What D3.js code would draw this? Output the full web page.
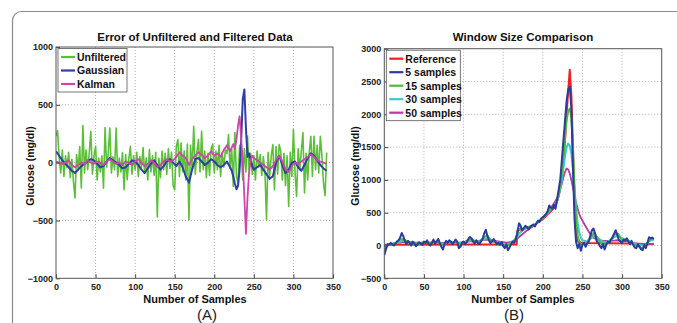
<!DOCTYPE html>
<html>
<head>
<meta charset="utf-8">
<script src="https://cdn.jsdelivr.net/npm/d3@7"></script>
<style>
  body { margin: 0; background: #fff; }
  svg { display: block; font-family: "Liberation Sans", Arial, sans-serif; }
</style>
</head>
<body>
<div id="chart"></div>
<script>
// ---- panel A: error of unfiltered / filtered data ----
const stepTwoA = d3.range(0, 344, 2);
const unfiltered = [
  230, 277, 40, -90, 110, -120, 60, -40, 90, -130,
  30, -160, -306, 70, -60, 140, -220, 320, -90, 110,
  -60, 80, 271, -100, 60, 141, -150, 40, -80, 60,
  -220, 303, -40, 80, 300, -90, 50, -60, 300, -120,
  40, -80, 87, -234, 70, -147, 30, 141, -100, 60,
  -60, 90, -120, 50, -40, 130, -90, 40, -150, 113,
  -80, 60, -110, 90, -470, 40, -130, 100, -60, 80,
  -100, 120, -50, 90, -200, -234, 140, 199, -120, 170,
  -80, 100, -150, 160, -494, 150, -60, 315, -100, 90,
  200, -80, 271, -60, 100, -130, 80, -110, 120, 160,
  -90, 100, -60, 150, -120, 90, -40, 110, 80, 243,
  -50, 120, -205, 260, -120, -180, 150, 90, -150, 120,
  -80, 228, -60, 80, -100, 60, -150, 100, -40, 70,
  -110, 50, -80, -494, 90, -120, 60, 156, -234, 140,
  -100, 156, 100, -150, 80, -200, 60, -378, 90, -120,
  286, -80, -292, 120, -60, 100, 260, -262, 80, -150,
  90, 228, -120, 228, -60, 150, -90, 228, 60, -180,
  -286, 87
];
const filtX = d3.range(0, 220, 4).concat(d3.range(220, 252, 2)).concat(d3.range(254, 343, 4));
const gaussian = [
  98, 60, 20, -10, -40, -70, -89, -60, -30, -10,
  10, 30, 20, -10, -40, -30, 10, 40, 20, 0,
  -20, -50, -40, -10, 20, 10, -20, -60, -90, -50,
  -10, 20, -20, -60, -30, 10, 30, 0, -30, 10,
  -40, -120, -173, -60, 30, 40, 10, -20, 0, 30,
  10, -20, -40, -20, 10,
  -40, -70, -120, -180, -230, -200, -60, 200, 550, 633, 300, 50, 80, 20, -30, -60,
  -40, -20, -60, -100, -140, -118, 0, 60, -20, -90,
  -60, 0, 10, -40, -70, -20, 40, 80, 60, 20, -20, -50, -70
];
const kalman = [
  10, 0, -10, 0, 20, -20, -40, -20, 0, -10,
  20, 0, -10, 10, 0, -20, 10, 30, 10, -10,
  0, -20, 10, 0, -20, 10, 30, 0, -30, -10,
  20, 0, -40, -20, 10, 30, 10, 20, 50, 90,
  60, 40, -20, 30, 60, 90, 70, 40, 60, 100,
  60, 80, 50, 110, 150,
  100, 130, 160, 120, 200, 320, 401, 200, 20, -300, -615, -300, -80, 20, 60, 40,
  20, 0, -20, -40, -60, -30, 20, 60, 10, -60,
  -80, -30, 0, -10, 10, 30, 50, 70, 50, 20, 10, 0, -10
];
const ticksXA = [0, 50, 100, 150, 200, 250, 300, 350];
const ticksYA = [-1000, -500, 0, 500, 1000];
const namesA = ["Unfiltered", "Gaussian", "Kalman"];

// ---- panel B: window size comparison ----
const refX = [0, 100, 167, 168, 180, 190, 200, 210, 216, 220, 224, 227, 230, 232, 234, 236, 238, 240, 242, 244, 250, 280, 310, 340];
const reference = [10, 15, 15, 230, 270, 320, 400, 520, 600, 750, 1000, 1400, 2000, 2350, 2680, 2300, 1500, 700, 200, 60, 40, 35, 30, 20];
const stepTwoB = d3.range(0, 342, 2);
const win5 = [
  -150, -60, 20, 10, 40, 20, 0, 30, 60, 80,
  120, 190, 140, 60, 20, 70, 40, 0, 60, 30,
  -10, 20, 50, 30, 10, 60, 40, 80, 20, 0,
  40, 90, 30, 60, 100, 40, -20, -60, 20, 70,
  40, 80, 60, 20, 50, 90, 60, -40, -20, 40,
  60, 20, 50, 100, 130, 110, 60, 30, 80, 40,
  20, 60, 100, 180, 240, 150, 80, 40, 60, 100,
  60, 20, 40, 10, 50, -10, -40, 20, -72, -30,
  20, 60, 40, 100, 200, 340, 300, 230, 260, 300,
  280, 250, 280, 300, 320, 290, 340, 380, 360, 410,
  430, 450, 480, 520, 610, 580, 560, 620, 560, 700,
  850, 1000, 1300, 1600, 1900, 2200, 2380, 2418, 2100, 1200,
  400, 50, -40, 30, -80, 10, 40, -20, 30, 60,
  150, 230, 260, 180, 60, 40, -10, -41, 20, -60,
  10, 60, 40, 90, 120, 180, 233, 160, 80, 60,
  40, 90, 70, 110, 60, 20, 70, 10, -30, -41,
  20, -20, -60, -72, 10, -40, 40, 126, 110, 120,
  100
];
const smoothX = d3.range(0, 220, 5).concat(d3.range(218, 252, 2)).concat(d3.range(255, 345, 5));
const win15 = [
  -60, 10, 25, 40, 90, 100, 50, 30, 20, 35,
  45, 40, 45, 60, 30, 10, 50, 50, 50, 20,
  40, 80, 100, 60, 50, 120, 150, 70, 50, 30,
  10, -10, 30, 90, 250, 260, 280, 285, 310, 370,
  430, 490, 570, 590,
  680, 780, 920, 1100, 1350, 1650, 1900, 2050, 2088, 1950, 1500, 900, 400, 150, 60, 20, 20,
  30, 120, 200, 90, 10, 20, 70, 170, 180, 80,
  90, 60, 10, -10, -40, 0, 90, 100
];
const win30 = [
  -20, 10, 25, 35, 60, 75, 55, 40, 30, 35,
  40, 40, 45, 45, 35, 25, 40, 45, 40, 35,
  45, 65, 75, 65, 65, 95, 110, 80, 60, 40,
  25, 15, 40, 90, 180, 240, 270, 290, 320, 370,
  420, 480, 550, 610,
  680, 760, 860, 1000, 1180, 1350, 1500, 1555, 1520, 1400, 1150, 850, 560, 340, 200, 120, 80,
  60, 100, 150, 110, 60, 50, 80, 130, 150, 110,
  90, 60, 30, 10, 0, 20, 70, 90
];
const win50 = [
  0, 15, 25, 35, 45, 55, 55, 50, 45, 45,
  45, 45, 45, 45, 40, 40, 40, 45, 45, 45,
  50, 60, 65, 70, 75, 85, 90, 80, 70, 60,
  50, 45, 55, 80, 130, 180, 230, 270, 310, 360,
  420, 490, 570, 660,
  720, 780, 860, 940, 1040, 1120, 1174, 1160, 1100, 1000, 880, 760, 650, 560, 480, 420, 380,
  270, 170, 110, 85, 75, 70, 70, 75, 80, 75,
  70, 50, 35, 25, 20, 20, 25, 30
];
const ticksXB = [0, 50, 100, 150, 200, 250, 300, 350];
const ticksYB = [-500, 0, 500, 1000, 1500, 2000, 2500, 3000];
const namesB = ["Reference", "5 samples", "15 samples", "30 samples", "50 samples"];

const W = 677, H = 323;
const svg = d3.select("#chart").append("svg").attr("width", W).attr("height", H);

// outer rounded frame
svg.append("rect")
  .attr("x", 12.5).attr("y", 11.5).attr("width", 720).attr("height", 400)
  .attr("rx", 9).attr("fill", "none").attr("stroke", "#8a8a8a").attr("stroke-width", 1.2);

function drawPanel(cfg) {
  const x = d3.scaleLinear().domain([0, 350]).range([cfg.left, cfg.right]);
  const y = d3.scaleLinear().domain(cfg.yDomain).range([cfg.bottom, cfg.top]);
  const g = svg.append("g");

  // dotted grid
  g.selectAll(".gx").data(cfg.ticksX.slice(1, -1)).enter().append("line")
    .attr("x1", d => x(d)).attr("x2", d => x(d)).attr("y1", cfg.top).attr("y2", cfg.bottom)
    .attr("stroke", "#9a9a9a").attr("stroke-width", 0.8).attr("stroke-dasharray", "1,2");
  g.selectAll(".gy").data(cfg.ticksY.slice(1, -1)).enter().append("line")
    .attr("x1", cfg.left).attr("x2", cfg.right).attr("y1", d => y(d)).attr("y2", d => y(d))
    .attr("stroke", "#9a9a9a").attr("stroke-width", 0.8).attr("stroke-dasharray", "1,2");

  const clipId = "clip" + cfg.id;
  svg.append("clipPath").attr("id", clipId).append("rect")
    .attr("x", cfg.left).attr("y", cfg.top).attr("width", cfg.right - cfg.left).attr("height", cfg.bottom - cfg.top);

  // draw in cfg.drawOrder (legend keeps the series order)
  const lines = g.append("g").attr("clip-path", "url(#" + clipId + ")");
  cfg.drawOrder.map(i => cfg.series[i]).forEach(s => {
    const pts = s.xs.map((v, i) => [v, s.ys[i]]);
    lines.append("path")
      .datum(pts)
      .attr("fill", "none")
      .attr("stroke", s.color)
      .attr("stroke-width", s.width)
      .attr("stroke-linejoin", "round")
      .attr("d", d3.line().x(d => x(d[0])).y(d => y(d[1])));
  });

  // axes with inward ticks, plain integer labels
  const fmt = d3.format("d");
  const ax = d3.axisBottom(x).tickValues(cfg.ticksX).tickFormat(fmt).tickSizeInner(-4).tickSizeOuter(0).tickPadding(5);
  const ay = d3.axisLeft(y).tickValues(cfg.ticksY).tickFormat(fmt).tickSizeInner(-4).tickSizeOuter(0).tickPadding(3);
  const gxA = g.append("g").attr("transform", "translate(0," + cfg.bottom + ")").call(ax);
  const gyA = g.append("g").attr("transform", "translate(" + cfg.left + ",0)").call(ay);
  [gxA, gyA].forEach(a => {
    a.select(".domain").remove();
    a.selectAll("line").attr("stroke", "#444");
    a.selectAll("text").attr("font-size", 9).attr("font-weight", "bold").attr("fill", "#222")
      .attr("font-family", "Liberation Sans, Arial, sans-serif");
  });

  // plot box
  g.append("rect")
    .attr("x", cfg.left).attr("y", cfg.top)
    .attr("width", cfg.right - cfg.left).attr("height", cfg.bottom - cfg.top)
    .attr("fill", "none").attr("stroke", "#555").attr("stroke-width", 1);

  // titles
  g.append("text").attr("x", cfg.cx).attr("y", 41).attr("text-anchor", "middle")
    .attr("font-size", 11.5).attr("font-weight", "bold").attr("fill", "#111").text(cfg.title);
  g.append("text").attr("x", cfg.cx).attr("y", 303).attr("text-anchor", "middle")
    .attr("font-size", 11).attr("font-weight", "bold").attr("fill", "#111").text("Number of Samples");
  g.append("text")
    .attr("transform", "translate(" + cfg.ylabX + "," + cfg.ylabY + ") rotate(-90)")
    .attr("text-anchor", "middle").attr("font-size", 10.5).attr("font-weight", "bold").attr("fill", "#111")
    .text("Glucose (mg/dl)");
  g.append("text").attr("x", cfg.tagX).attr("y", 320).attr("text-anchor", "middle")
    .attr("font-size", 15).attr("fill", "#222").text(cfg.tag);

  // legend
  const lg = g.append("g");
  lg.append("rect")
    .attr("x", cfg.left + 2).attr("y", cfg.top + 1.5)
    .attr("width", cfg.legendW).attr("height", cfg.series.length * 13.5 + 3)
    .attr("fill", "#fff").attr("stroke", "#555").attr("stroke-width", 0.8);
  cfg.series.forEach((s, i) => {
    const yy = cfg.top + 10 + i * 13.5;
    lg.append("line").attr("x1", cfg.left + 5).attr("x2", cfg.left + 19)
      .attr("y1", yy).attr("y2", yy).attr("stroke", s.color).attr("stroke-width", 2.2);
    lg.append("text").attr("x", cfg.left + 21).attr("y", yy + 3.8)
      .attr("font-size", 10.5).attr("font-weight", "bold").attr("fill", "#111").text(s.name);
  });
}

drawPanel({
  id: "A", left: 56, right: 333, top: 47, bottom: 278.3,
  yDomain: [-1000, 1000], ticksX: ticksXA, ticksY: ticksYA,
  cx: 195, ylabX: 34, ylabY: 166, tagX: 207, tag: "(A)", legendW: 69,
  title: "Error of Unfiltered and Filtered Data",
  drawOrder: [0, 1, 2],
  series: [
    { name: namesA[0], xs: stepTwoA, ys: unfiltered, color: "#5cbf3a", width: 1.6 },
    { name: namesA[1], xs: filtX, ys: gaussian, color: "#2f3fa3", width: 2 },
    { name: namesA[2], xs: filtX, ys: kalman, color: "#cc47a6", width: 1.8 }
  ]
});

drawPanel({
  id: "B", left: 384.3, right: 661.7, top: 48.7, bottom: 278.3,
  yDomain: [-500, 3000], ticksX: ticksXB, ticksY: ticksYB,
  cx: 523, ylabX: 359, ylabY: 166, tagX: 514, tag: "(B)", legendW: 74,
  title: "Window Size Comparison",
  drawOrder: [0, 4, 3, 2, 1],
  series: [
    { name: namesB[0], xs: refX, ys: reference, color: "#ee2222", width: 2 },
    { name: namesB[1], xs: stepTwoB, ys: win5, color: "#2b3b9e", width: 2 },
    { name: namesB[2], xs: smoothX, ys: win15, color: "#4cbb34", width: 2 },
    { name: namesB[3], xs: smoothX, ys: win30, color: "#3cc8d2", width: 2 },
    { name: namesB[4], xs: smoothX, ys: win50, color: "#b43ca8", width: 1.8 }
  ]
});
</script>
</body>
</html>
